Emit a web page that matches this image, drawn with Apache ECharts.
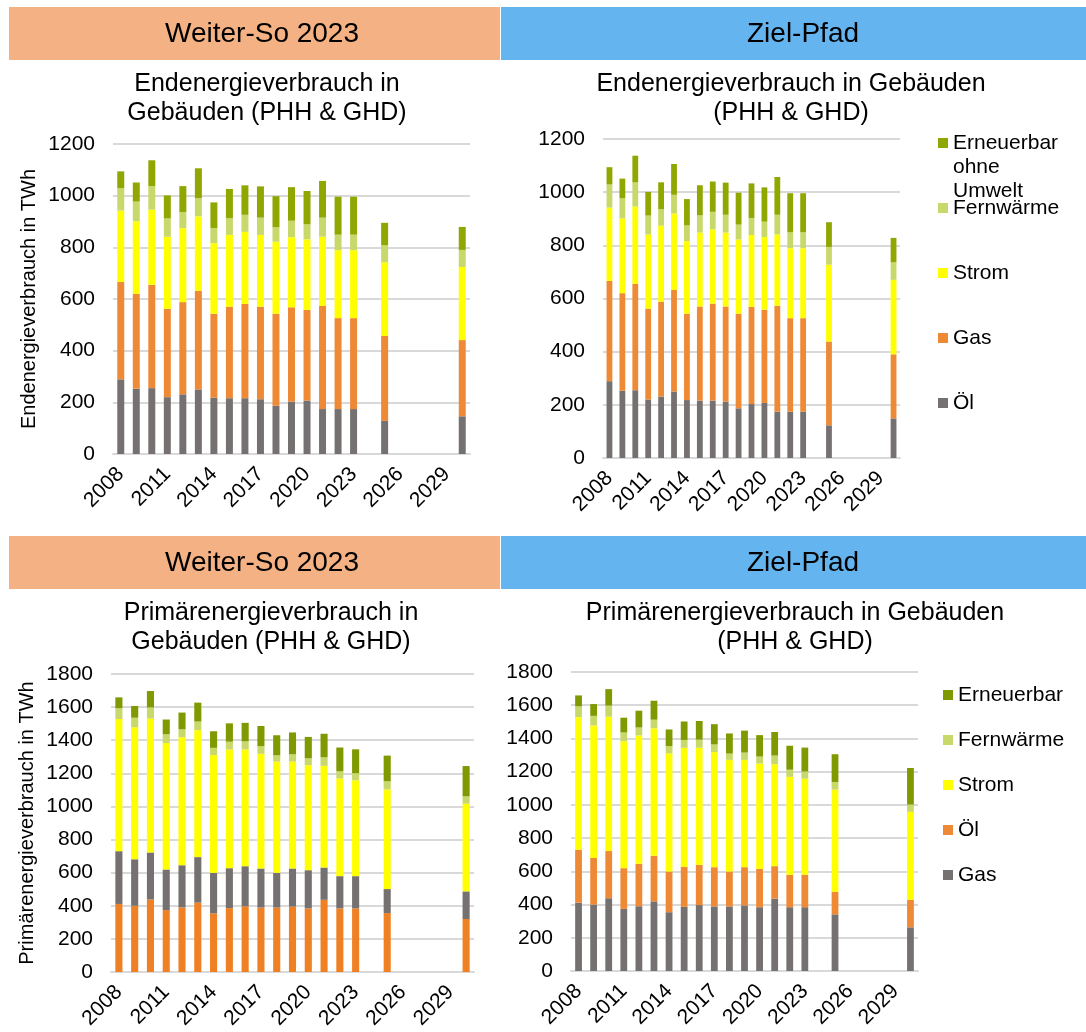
<!DOCTYPE html>
<html>
<head>
<meta charset="utf-8">
<script src="https://cdn.jsdelivr.net/npm/echarts@6/dist/echarts.min.js"></script>
<style>
  html, body { margin: 0; padding: 0; background: #fff; }
  #chart { width: 1086px; height: 1032px; }
</style>
</head>
<body>
<div id="chart"></div>
<script>
// Years on the category axis (2008–2030)
const years = ['2008','2009','2010','2011','2012','2013','2014','2015','2016','2017','2018','2019','2020','2021','2022','2023','2024','2025','2026','2027','2028','2029','2030'];

// Final energy in buildings (TWh), historical 2008–2023
const endOel   = [289,253,255,220,231,250,218,216,216,212,187,203,207,174,174,174];
const endGas   = [377,367,400,342,357,382,325,354,365,358,356,365,351,399,352,352];
const endStrom = [276,281,291,279,286,288,273,278,279,278,279,271,273,268,263,263];
const endFern  = [ 87, 76, 91, 71, 62, 70, 59, 65, 66, 67, 56, 64, 58, 74, 60, 60];
const endErn   = [ 65, 74,100, 89,101,116, 99,113,114,121,120,130,129,142,147,147];

// Final energy scenarios: [2025, 2030]
const endWsOel   = [128,146];
const endWsGas   = [329,295];
const endWsStrom = [285,283];
const endWsFern  = [ 66, 66];
const endWsErn   = [ 87, 89];

const endZpOel   = [123,149];
const endZpGas   = [315,241];
const endZpStrom = [289,280];
const endZpFern  = [ 67, 66];
const endZpErn   = [ 93, 92];

// Primary energy in buildings (TWh), historical 2008–2023
const primGas   = [411,400,438,374,390,419,354,386,397,389,389,395,384,436,384,384];
const primOel   = [319,281,284,245,255,275,245,241,242,236,210,230,231,195,195,195];
const primStrom = [798,797,809,764,773,767,711,717,705,693,672,646,634,614,590,579];
const primFern  = [ 65, 58, 67, 53, 48, 52, 44, 47, 49, 46, 38, 44, 42, 52, 43, 43];
const primErn   = [ 66, 71, 99, 89,101,114,100,111,112,122,121,132,129,142,144,144];

// Primary energy scenarios: [2025, 2030]
const primWsGas   = [356,320];
const primWsOel   = [145,167];
const primWsStrom = [602,530];
const primWsFern  = [ 49, 44];
const primWsErn   = [155,183];

const primZpGas   = [341,263];
const primZpOel   = [136,166];
const primZpStrom = [615,529];
const primZpFern  = [ 46, 44];
const primZpErn   = [167,220];

// Place history and the two scenario years on the full 2008–2030 axis
function full(hist, scen) {
  return hist.concat([null, scen[0], null, null, null, null, scen[1]]);
}

const C = {
  grey: '#767171',
  orange: '#EE8A36',
  orange2: '#F08024',
  yellow: '#FFFF00',
  ltGreen: '#C9D86A',
  dkGreen: '#8FA700',
  dkGreen2: '#7E9A00'
};

const FONT = 'Liberation Sans, Arial, sans-serif';
const TXT = '#000000';
const FS = 21;

const grids = [
  { left: 113, top: 144, width: 357, height: 310 },
  { left: 603, top: 139, width: 297, height: 319 },
  { left: 111, top: 674, width: 363, height: 298 },
  { left: 571, top: 672, width: 347, height: 299 }
];

function xAxis(i) {
  return {
    type: 'category', gridIndex: i, data: years,
    axisTick: { show: false },
    axisLine: { lineStyle: { color: '#D9D9D9', width: 2 } },
    axisLabel: { rotate: 45, interval: 2, fontSize: FS, color: TXT, fontFamily: FONT, margin: 17 }
  };
}
function yAxis(i, max, name) {
  return {
    type: 'value', gridIndex: i, min: 0, max: max, interval: 200,
    name: name || '', nameLocation: 'middle', nameGap: 74,
    nameTextStyle: { fontSize: 20, color: TXT, fontFamily: FONT },
    axisLine: { show: false }, axisTick: { show: false },
    axisLabel: { fontSize: FS, color: TXT, fontFamily: FONT, margin: 18, formatter: function (v) { return String(v); } },
    splitLine: { lineStyle: { color: '#D9D9D9', width: 2 } }
  };
}
function bar(name, idx, data, color) {
  return {
    type: 'bar', name: name, xAxisIndex: idx, yAxisIndex: idx, stack: 's' + idx,
    data: data, barWidth: '45%', itemStyle: { color: color }
  };
}

const series = [
  // Weiter-So 2023 – Endenergie
  bar('Öl', 0, full(endOel, endWsOel), C.grey),
  bar('Gas', 0, full(endGas, endWsGas), C.orange),
  bar('Strom', 0, full(endStrom, endWsStrom), C.yellow),
  bar('Fernwärme', 0, full(endFern, endWsFern), C.ltGreen),
  bar('Erneuerbar ohne Umwelt', 0, full(endErn, endWsErn), C.dkGreen),
  // Ziel-Pfad – Endenergie
  bar('Öl', 1, full(endOel, endZpOel), C.grey),
  bar('Gas', 1, full(endGas, endZpGas), C.orange),
  bar('Strom', 1, full(endStrom, endZpStrom), C.yellow),
  bar('Fernwärme', 1, full(endFern, endZpFern), C.ltGreen),
  bar('Erneuerbar ohne Umwelt', 1, full(endErn, endZpErn), C.dkGreen),
  // Weiter-So 2023 – Primärenergie
  bar('Gas', 2, full(primGas, primWsGas), C.orange2),
  bar('Öl', 2, full(primOel, primWsOel), C.grey),
  bar('Strom', 2, full(primStrom, primWsStrom), C.yellow),
  bar('Fernwärme', 2, full(primFern, primWsFern), C.ltGreen),
  bar('Erneuerbar', 2, full(primErn, primWsErn), C.dkGreen2),
  // Ziel-Pfad – Primärenergie
  bar('Gas', 3, full(primGas, primZpGas), C.grey),
  bar('Öl', 3, full(primOel, primZpOel), C.orange),
  bar('Strom', 3, full(primStrom, primZpStrom), C.yellow),
  bar('Fernwärme', 3, full(primFern, primZpFern), C.ltGreen),
  bar('Erneuerbar', 3, full(primErn, primZpErn), C.dkGreen2)
];

const legendText = { fontSize: FS, color: TXT, fontFamily: FONT, lineHeight: 24 };
function legendBase(extra) {
  return Object.assign({
    orient: 'vertical', icon: 'rect', itemWidth: 10, itemHeight: 10,
    selectedMode: false, padding: 0, textStyle: legendText
  }, extra);
}

const titleStyle = { fontSize: 25, fontWeight: 'normal', color: TXT, fontFamily: FONT, lineHeight: 29 };

const option = {
  animation: false,
  backgroundColor: '#ffffff',
  grid: grids,
  xAxis: [xAxis(0), xAxis(1), xAxis(2), xAxis(3)],
  yAxis: [
    yAxis(0, 1200, 'Endenergieverbrauch in TWh'),
    yAxis(1, 1200),
    yAxis(2, 1800, 'Primärenergieverbrauch in TWh'),
    yAxis(3, 1800)
  ],
  title: [
    { text: 'Endenergieverbrauch in\nGebäuden (PHH & GHD)', left: 267, top: 70, textAlign: 'center', padding: 0, textStyle: titleStyle },
    { text: 'Endenergieverbrauch in Gebäuden\n(PHH & GHD)', left: 791, top: 70, textAlign: 'center', padding: 0, textStyle: titleStyle },
    { text: 'Primärenergieverbrauch in\nGebäuden (PHH & GHD)', left: 271, top: 599, textAlign: 'center', padding: 0, textStyle: titleStyle },
    { text: 'Primärenergieverbrauch in Gebäuden\n(PHH & GHD)', left: 795, top: 599, textAlign: 'center', padding: 0, textStyle: titleStyle }
  ],
  legend: [
    // three-line label whose first line sits beside the swatch
    legendBase({
      left: 938, top: 83,
      data: ['Erneuerbar ohne Umwelt'],
      formatter: function () { return '\n\nErneuerbar\nohne\nUmwelt'; }
    }),
    legendBase({
      left: 938, top: 196, itemGap: 41,
      data: ['Fernwärme', 'Strom', 'Gas', 'Öl']
    }),
    legendBase({
      left: 943, top: 683, itemGap: 21,
      data: [
        { name: 'Erneuerbar', itemStyle: { color: C.dkGreen2 } },
        { name: 'Fernwärme', itemStyle: { color: C.ltGreen } },
        { name: 'Strom', itemStyle: { color: C.yellow } },
        { name: 'Öl', itemStyle: { color: C.orange } },
        { name: 'Gas', itemStyle: { color: C.grey } }
      ]
    })
  ],
  graphic: [
    { type: 'rect', shape: { x: 9, y: 7, width: 491, height: 53 }, style: { fill: '#F4B183' } },
    { type: 'rect', shape: { x: 501, y: 7, width: 585, height: 53 }, style: { fill: '#64B4EF' } },
    { type: 'rect', shape: { x: 9, y: 536, width: 491, height: 53 }, style: { fill: '#F4B183' } },
    { type: 'rect', shape: { x: 501, y: 536, width: 585, height: 53 }, style: { fill: '#64B4EF' } },
    { type: 'text', x: 262, y: 34, style: { text: 'Weiter-So 2023', fontSize: 28, fontFamily: FONT, fill: TXT, align: 'center', verticalAlign: 'middle' } },
    { type: 'text', x: 803, y: 34, style: { text: 'Ziel-Pfad', fontSize: 28, fontFamily: FONT, fill: TXT, align: 'center', verticalAlign: 'middle' } },
    { type: 'text', x: 262, y: 563, style: { text: 'Weiter-So 2023', fontSize: 28, fontFamily: FONT, fill: TXT, align: 'center', verticalAlign: 'middle' } },
    { type: 'text', x: 803, y: 563, style: { text: 'Ziel-Pfad', fontSize: 28, fontFamily: FONT, fill: TXT, align: 'center', verticalAlign: 'middle' } }
  ],
  series: series
};

const chart = echarts.init(document.getElementById('chart'), null, { renderer: 'canvas' });
chart.setOption(option);
</script>
</body>
</html>
